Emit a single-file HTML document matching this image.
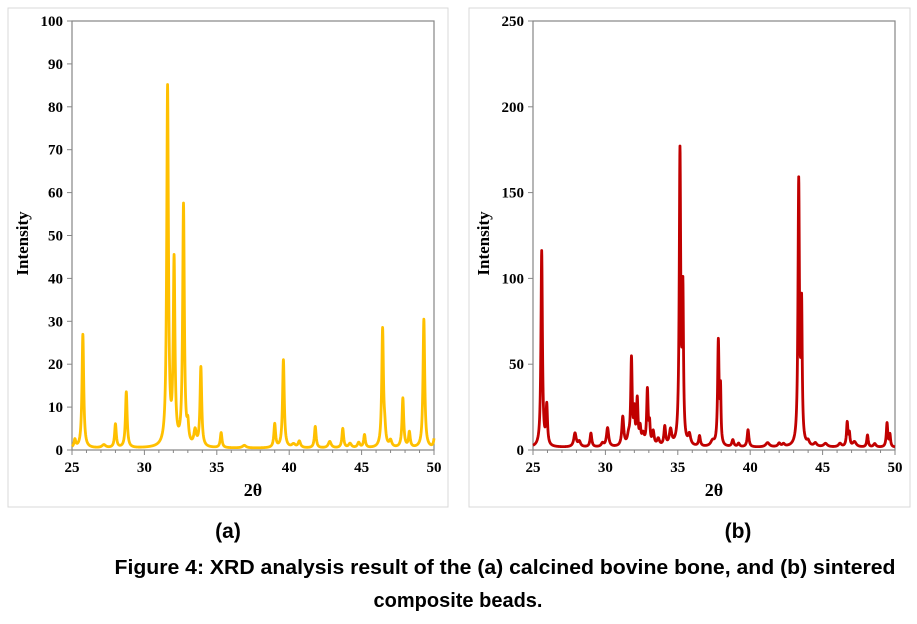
<!DOCTYPE html>
<html><head><meta charset="utf-8"><style>
html,body{margin:0;padding:0;background:#fff;}
svg{display:block;}
</style></head><body>
<svg id="s" width="917" height="624" xmlns="http://www.w3.org/2000/svg">
<rect x="0" y="0" width="917" height="624" fill="#fff"/>
<rect x="8" y="8" width="440" height="499" fill="none" stroke="#d9d9d9" stroke-width="1"/>
<rect x="469" y="8" width="441" height="499" fill="none" stroke="#d9d9d9" stroke-width="1"/>
<g id="g"></g>
<g font-family="Liberation Sans, sans-serif" font-weight="bold" fill="#000">
<text x="228" y="538" font-size="21" text-anchor="middle">(a)</text>
<text x="738" y="538" font-size="21" text-anchor="middle">(b)</text>
<text x="505" y="574" font-size="20" text-anchor="middle" textLength="781" lengthAdjust="spacingAndGlyphs">Figure 4: XRD analysis result of the (a) calcined bovine bone, and (b) sintered</text>
<text x="458" y="607" font-size="20" text-anchor="middle">composite beads.</text>
</g>
</svg>
<script>
var NS="http://www.w3.org/2000/svg",g=document.getElementById('g');
function el(t,a,txt){var e=document.createElementNS(NS,t);for(var k in a)e.setAttribute(k,a[k]);if(txt!==undefined)e.textContent=txt;g.appendChild(e);return e;}
function chart(x0,x1,y0,y1,ymax,ystep,peaks,base,color){
 var Y=function(v){return y1-(v/ymax)*(y1-y0);},X=function(t){return x0+(t-25)/25*(x1-x0);};
 el('rect',{x:x0,y:y0,width:x1-x0,height:y1-y0,fill:'none',stroke:'#868686','stroke-width':1.2});
 for(var v=0;v<=ymax;v+=ystep){var y=Y(v);el('line',{x1:x0-5,x2:x0,y1:y,y2:y,stroke:'#868686'});
  el('text',{x:x0-9,y:y+5,'font-size':15,'font-weight':'bold','font-family':'Liberation Serif, serif','text-anchor':'end'},v);}
 for(var t=25;t<=50;t++){var x=X(t);el('line',{x1:x,x2:x,y1:y1,y2:y1+(t%5?3:5),stroke:'#868686'});}
 for(var t=25;t<=50;t+=5){el('text',{x:X(t),y:y1+22,'font-size':15,'font-weight':'bold','font-family':'Liberation Serif, serif','text-anchor':'middle'},t);}
 el('text',{x:(x0+x1)/2,y:y1+46,'font-size':18,'font-weight':'bold','font-family':'Liberation Serif, DejaVu Serif, serif','text-anchor':'middle'},'2θ');
 var cx=x0-44,cy=(y0+y1)/2+8;
 el('text',{x:cx,y:cy,'font-size':17,'font-weight':'bold','font-family':'Liberation Serif, serif','text-anchor':'middle',transform:'rotate(-90 '+cx+' '+cy+')'},'Intensity');
 var d='';
 for(var t=25;t<=50.0001;t+=0.01){var v=base;for(var i=0;i<peaks.length;i++){var p=peaks[i],w=p[2]||0.07,u=(t-p[0])/w;v+=p[1]/(1+u*u);}
  if(v>ymax)v=ymax;d+=(d?'L':'M')+X(t).toFixed(2)+','+Y(v).toFixed(2);}
 el('path',{d:d,fill:'none',stroke:color,'stroke-width':2.8,'stroke-linejoin':'round'});
}
chart(72,434,21,450,100,10,[[25.2,1.8],[25.75,26.5],[27.2,0.7,0.15],[28.0,5.5],[28.75,13],[31.6,83.5],[32.05,42.5],[32.7,56],[33.0,4],[33.5,3.5,0.1],[33.9,18.5],[35.3,3.5],[36.9,0.6,0.15],[39.0,5.5],[39.6,20.5],[40.3,0.8,0.15],[40.7,1.5,0.1],[41.8,5],[42.8,1.5,0.12],[43.7,4.5],[44.2,1,0.12],[44.8,1.2,0.1],[45.2,3],[46.45,27.5],[46.6,3],[47.0,1.5,0.1],[47.85,11.5],[48.3,3.5],[49.3,30],[50.05,3]],0.4,'#FFC000');
chart(533,895,21,450,250,50,[[25.6,114,0.06],[25.95,23,0.06],[27.9,8,0.1],[28.2,3,0.1],[29.0,8,0.07],[29.8,2,0.1],[30.15,11,0.09],[31.2,17,0.08],[31.6,5,0.1],[31.8,50,0.06],[32.0,18,0.05],[32.2,26,0.06],[32.4,9,0.06],[32.6,6,0.1],[32.9,32,0.06],[33.05,11,0.05],[33.3,8,0.08],[33.65,4,0.1],[34.1,11,0.07],[34.5,9,0.1],[35.15,170,0.06],[35.35,85,0.05],[35.8,6,0.1],[36.5,6,0.07],[37.4,3,0.15],[37.8,61,0.06],[37.95,30,0.04],[38.8,4,0.08],[39.2,2,0.08],[39.85,10,0.07],[41.2,2.5,0.15],[42.0,2,0.1],[42.3,1.5,0.1],[43.35,153,0.06],[43.55,77,0.05],[44.0,2.5,0.1],[44.5,2,0.12],[45.2,2,0.15],[46.2,2,0.12],[46.7,14,0.06],[46.85,7,0.05],[47.2,3,0.15],[48.1,7,0.06],[48.6,2,0.1],[49.45,14,0.06],[49.65,7,0.05]],1.5,'#C00000');
</script>
</body></html>
